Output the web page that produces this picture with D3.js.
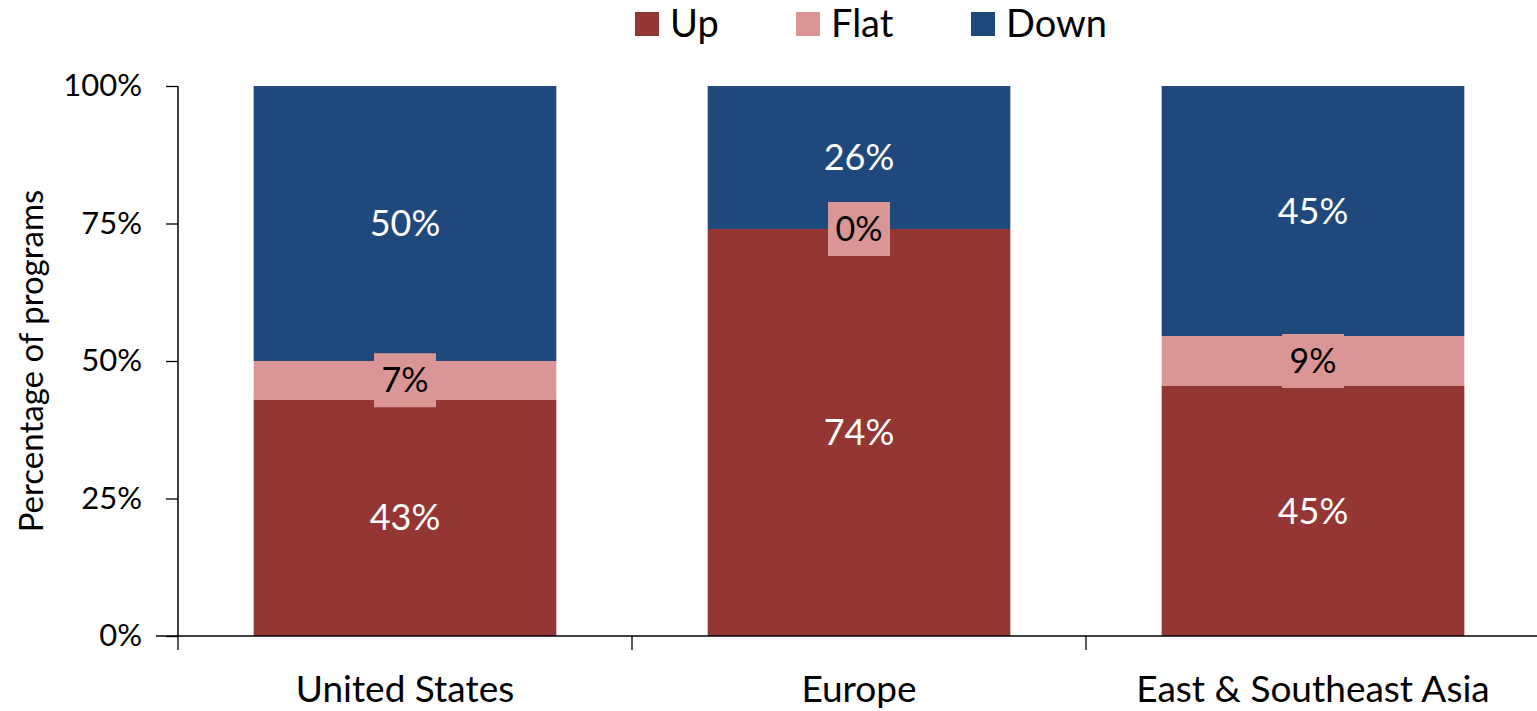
<!DOCTYPE html>
<html>
<head>
<meta charset="utf-8">
<script src="https://cdn.jsdelivr.net/npm/d3@7"></script>
<style>
  html, body { margin: 0; padding: 0; background: #fff; }
  svg { display: block; font-family: Lato, "Open Sans", sans-serif; }
</style>
</head>
<body>
<svg id="chart" width="1537" height="711"></svg>
<script>
// Share of programs by direction of change, per region
const regions = ["United States", "Europe", "East & Southeast Asia"];
const seriesNames = ["Up", "Flat", "Down"];
const upValues = [43, 74, 45];
const flatValues = [7, 0, 9];
const downValues = [50, 26, 45];
const yTicks = [0, 0.25, 0.5, 0.75, 1];
const colors = ["#943634", "#D99694", "#1F497D"];
const labelColors = ["#ffffff", "#000000", "#ffffff"];

const rows = regions.map((r, i) => ({
  region: r, Up: upValues[i], Flat: flatValues[i], Down: downValues[i]
}));

const svg = d3.select("#chart");
const plotLeft = 178, plotRight = 1540, plotTop = 86, plotBottom = 636;

const x = d3.scaleBand().domain(regions).range([plotLeft, plotRight]).paddingInner(1/3).paddingOuter(1/6);
const xOuter = d3.scaleBand().domain(regions).range([plotLeft, plotRight]);
const y = d3.scaleLinear().domain([0, 1]).range([plotBottom, plotTop]);
const color = d3.scaleOrdinal().domain(seriesNames).range(colors);

const stack = d3.stack().keys(seriesNames).offset(d3.stackOffsetExpand);
const layers = stack(rows);

// Bars
const g = svg.append("g");
layers.forEach((layer, li) => {
  g.selectAll(null).data(layer).enter().append("rect")
    .attr("x", d => x(d.data.region))
    .attr("width", x.bandwidth())
    .attr("y", d => y(d[1]))
    .attr("height", d => y(d[0]) - y(d[1]))
    .attr("fill", colors[li]);
});

// Y axis
const yAxis = svg.append("g").attr("transform", `translate(${plotLeft},0)`)
  .call(d3.axisLeft(y).tickValues(yTicks).tickFormat(d3.format(".0%")).tickSize(12).tickPadding(24))
  .attr("font-family", null).attr("font-size", null);
yAxis.select(".domain").attr("d", `M0,${plotTop}V${plotBottom}`).attr("stroke", "#000").attr("stroke-width", 1.5);
yAxis.selectAll(".tick line").attr("stroke", "#000").attr("stroke-width", 1.3);
yAxis.selectAll(".tick text").attr("font-size", 31).attr("fill", "#000");

// X axis with boundary ticks between categories
const xAxisG = svg.append("g").attr("transform", `translate(0,${plotBottom})`);
xAxisG.append("line").attr("x1", 156).attr("x2", 1537).attr("y1", 0).attr("y2", 0)
  .attr("stroke", "#000").attr("stroke-width", 1.5);
xAxisG.selectAll("line.sep").data(regions).enter().append("line")
  .attr("class", "sep")
  .attr("x1", d => xOuter(d)).attr("x2", d => xOuter(d))
  .attr("y1", 0).attr("y2", 14).attr("stroke", "#000").attr("stroke-width", 1.3);
xAxisG.selectAll("text").data(regions).enter().append("text")
  .attr("x", d => x(d) + x.bandwidth() / 2)
  .attr("y", 66)
  .attr("text-anchor", "middle")
  .attr("font-size", 37)
  .attr("fill", "#000")
  .text(d => d);

// Y axis title
svg.append("text")
  .attr("transform", `translate(31,${(plotTop + plotBottom) / 2}) rotate(-90)`)
  .attr("text-anchor", "middle")
  .attr("dy", "0.35em")
  .attr("font-size", 33)
  .attr("fill", "#000")
  .text("Percentage of programs");

// Value labels
const fmt = v => v + "%";
layers.forEach((layer, li) => {
  const key = layer.key;
  layer.forEach(d => {
    const cx = x(d.data.region) + x.bandwidth() / 2;
    const cy = (y(d[0]) + y(d[1])) / 2;
    const lg = svg.append("g");
    if (key === "Flat") {
      lg.append("rect")
        .attr("x", cx - 31).attr("y", cy - 27)
        .attr("width", 62).attr("height", 54)
        .attr("fill", colors[li]);
    }
    lg.append("text")
      .attr("x", cx).attr("y", cy)
      .attr("dy", "0.35em")
      .attr("text-anchor", "middle")
      .attr("font-size", key === "Flat" ? 34 : 36)
      .attr("fill", labelColors[li])
      .text(fmt(d.data[key]));
  });
});

// Legend
const legendX = [635, 796, 971];
const legend = svg.append("g");
seriesNames.forEach((s, i) => {
  legend.append("rect").attr("x", legendX[i]).attr("y", 12).attr("width", 24).attr("height", 24)
    .attr("fill", color(s));
  legend.append("text").attr("x", legendX[i] + 35).attr("y", 24).attr("dy", "0.35em")
    .attr("font-size", 38).attr("fill", "#000").text(s);
});
</script>
</body>
</html>
